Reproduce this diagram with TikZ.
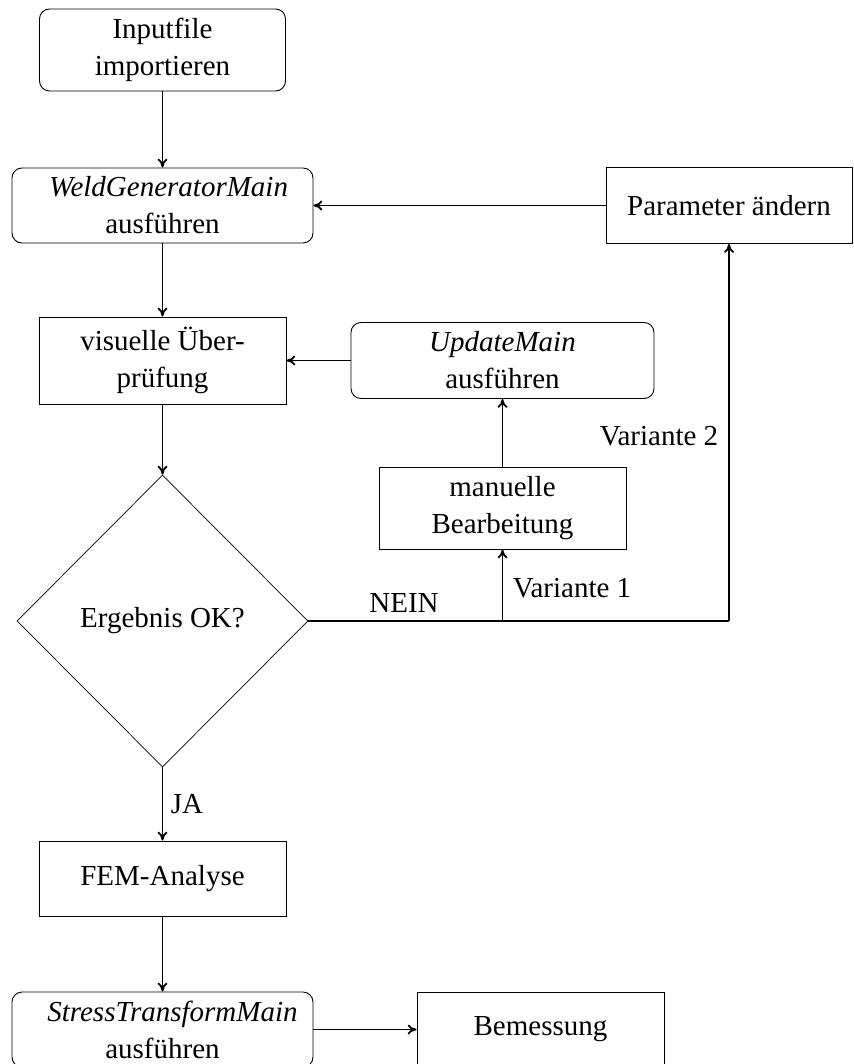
\documentclass[tikz,border=0pt]{standalone}
\usepackage{fontspec}
\setmainfont{Liberation Serif}
\usetikzlibrary{shapes.geometric,arrows.meta}
\begin{document}
\begin{tikzpicture}[x=1pt,y=-1pt,
  txt/.style={font=\fontsize{29}{37}\selectfont},
  base/.style={txt, draw, line width=0.9pt, align=center, inner sep=0pt},
  proc/.style={base, rectangle},
  run/.style={base, rectangle, rounded corners=10pt},
  decide/.style={base, diamond, line width=0.7pt, aspect=1},
  flow/.style={line width=1.8pt, -{To[length=9pt,width=10pt]}},
  wire/.style={line width=1.8pt},
  lbl/.style={txt, inner sep=0pt, anchor=base}]
  \useasboundingbox (0,0) rectangle (853,1064);

  % main column
  \node[run, minimum width=246pt, minimum height=82pt] (in) at (162.5,50) {Inputfile\\importieren};
  \node[run, minimum width=301pt, minimum height=75pt] (weld) at (162.5,205.5) {\hspace*{12pt}\textit{WeldGeneratorMain}\\ausführen};
  \node[proc, minimum width=247pt, minimum height=87pt] (vis) at (162.5,360.5) {visuelle Über-\\prüfung};
  \node[decide, minimum width=291pt, minimum height=292pt] (dec) at (162.5,621) {Ergebnis OK?};
  \node[proc, minimum width=247pt, minimum height=75pt] (fem) at (162.5,878.5) {FEM-Analyse};
  \node[run, minimum width=301pt, minimum height=75pt] (stress) at (162.5,1029.5) {\hspace*{20pt}\textit{StressTransformMain}\\ausführen};
  \node[proc, minimum width=247pt, minimum height=75pt] (bem) at (540.5,1029.5) {Bemessung};

  % correction loops
  \node[proc, minimum width=246pt, minimum height=76pt] (param) at (729,205.5) {Parameter ändern};
  \node[run, minimum width=303pt, minimum height=76pt] (upd) at (502.5,360.5) {\textit{UpdateMain}\\ausführen};
  \node[proc, minimum width=247pt, minimum height=82pt] (man) at (502.5,508) {manuelle\\Bearbeitung};

  \coordinate (split) at (502.5,621);
  \coordinate (corner) at (729,621);

  % connectors
  \draw[flow] (in) -- (weld);
  \draw[flow] (weld) -- (vis);
  \draw[flow] (vis) -- (dec);
  \draw[flow] (dec) -- (fem);
  \draw[flow] (fem) -- (stress);
  \draw[flow] (stress) -- (bem);
  \draw[wire] (dec.east) -- (split) -- (corner);
  \draw[flow] (split) -- (man);
  \draw[flow] (man) -- (upd);
  \draw[flow] (upd) -- (vis);
  \draw[flow] (corner) -- (param);
  \draw[flow] (param) -- (weld);

  % labels
  \node[lbl] (ja) at (187,813) {JA};
  \node[lbl] (nein) at (404,612) {NEIN};
  \node[lbl] (v1) at (572,597) {Variante 1};
  \node[lbl] (v2) at (659,445) {Variante 2};
\end{tikzpicture}
\end{document}
